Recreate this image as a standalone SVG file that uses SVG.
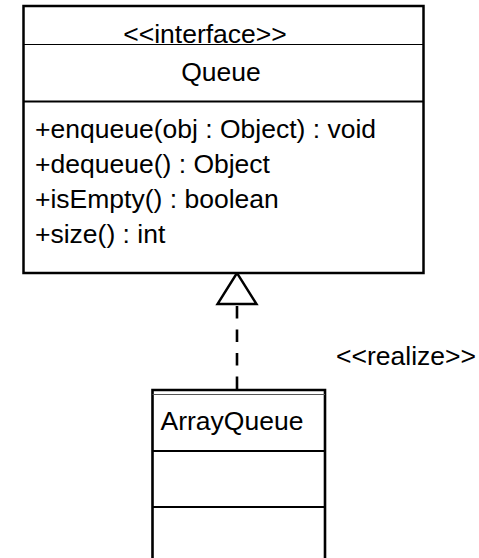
<svg xmlns="http://www.w3.org/2000/svg" width="479" height="558" viewBox="0 0 479 558">
<style>
text{font-family:"Liberation Sans",Arial,Helvetica,sans-serif;font-size:26.5px;fill:#000}
.box{fill:#fff;stroke:#000;stroke-width:2.5}
.sep{stroke:#000;stroke-width:2.2}
.thin{stroke:#000;stroke-width:1}
.conn{stroke:#000;stroke-width:2.6;fill:none}
</style>
<rect width="479" height="558" fill="#fff"/>
<g id="connectors">
<line class="conn" x1="237" y1="304" x2="237" y2="389" stroke-dasharray="12.5 11" stroke-dashoffset="-2"/>
<polygon points="237,273 217.5,304 256.5,304" fill="#fff" stroke="#000" stroke-width="2.4" stroke-linejoin="miter"/>
<text x="336" y="365">&lt;&lt;realize&gt;&gt;</text>
</g>
<g id="Queue">
<rect class="box" x="23.5" y="6" width="400" height="267"/>
<line class="thin" x1="23.5" y1="44.5" x2="423.5" y2="44.5"/>
<line class="sep" x1="23.5" y1="101.5" x2="423.5" y2="101.5"/>
<text x="205" y="43" text-anchor="middle">&lt;&lt;interface&gt;&gt;</text>
<text x="221" y="81" text-anchor="middle">Queue</text>
<text x="35" y="138">+enqueue(obj : Object) : void</text>
<text x="35" y="173">+dequeue() : Object</text>
<text x="35" y="208">+isEmpty() : boolean</text>
<text x="35" y="243">+size() : int</text>
</g>
<g id="ArrayQueue">
<rect x="152.5" y="390" width="172.5" height="170" fill="#fff"/>
<path class="conn" d="M152.5,558 V390 H325 V558"/>
<line x1="152.5" y1="394.5" x2="325" y2="394.5" stroke="#555" stroke-width="1"/>
<line class="sep" x1="152.5" y1="451" x2="325" y2="451"/>
<line class="sep" x1="152.5" y1="507" x2="325" y2="507"/>
<text x="160.5" y="430">ArrayQueue</text>
</g>
</svg>
